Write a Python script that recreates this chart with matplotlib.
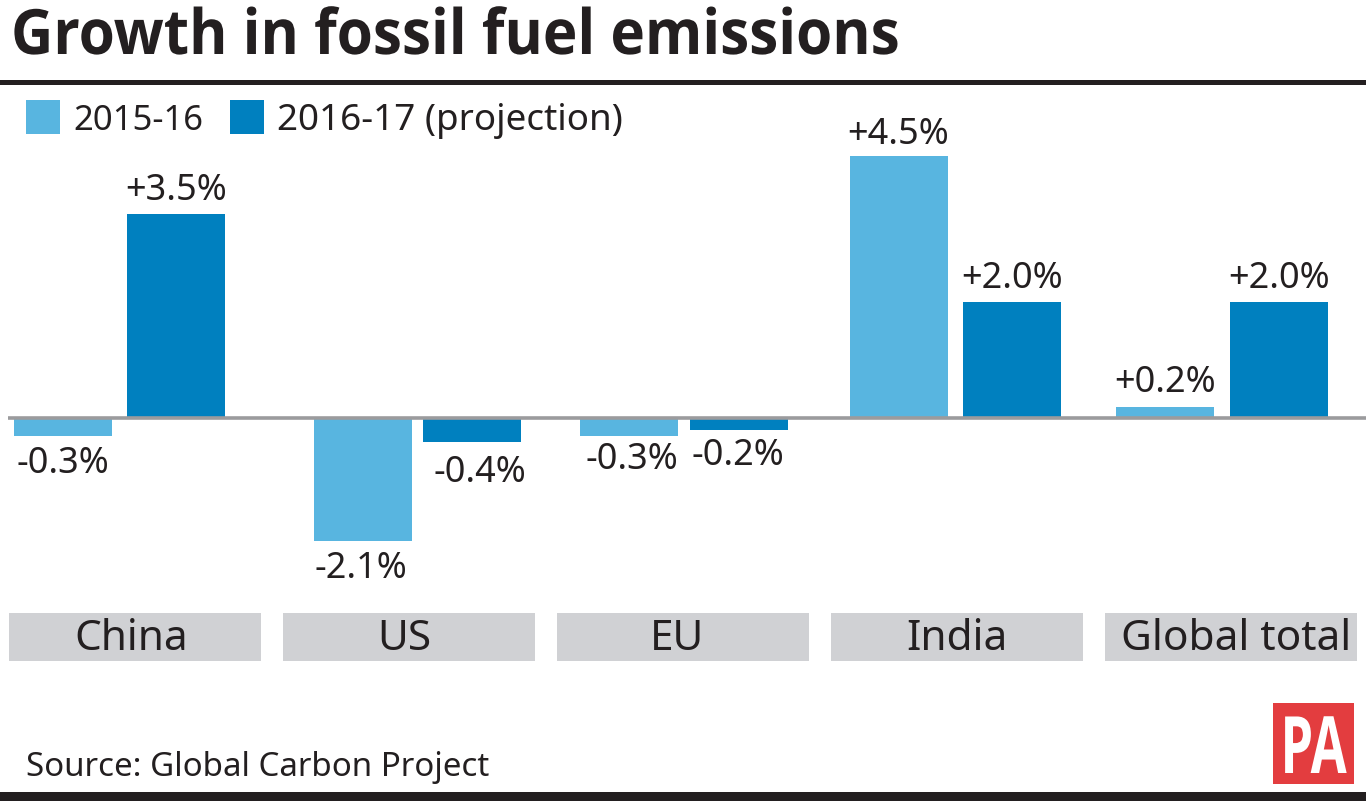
#!/usr/bin/env python3
"""Growth in fossil fuel emissions, PA style bar chart."""

import matplotlib.pyplot as plt
from matplotlib.patches import Rectangle
from matplotlib.patheffects import AbstractPathEffect
from matplotlib.transforms import Affine2D

FONT = "Noto Sans"
BOLD_FONT = "Open Sans"
TEXT = "#231f20"
LIGHT = "#58b5e0"
DARK = "#0080bf"
BAND = "#d0d1d4"
WIDTH, HEIGHT = 1366, 801
PX_PER_UNIT = 58.4
ZERO_Y = 418.5

regions = ["China", "US", "EU", "India", "Global total"]
growth_2015_16 = [-0.3, -2.1, -0.3, 4.5, 0.2]
growth_2016_17 = [3.5, -0.4, -0.2, 2.0, 2.0]
series_names = ["2015-16", "2016-17 (projection)"]

# layout, in pixels of the finished picture
left_bar_x = [14, 314, 580, 850, 1116]
right_bar_x = [127, 423, 690, 963, 1230]
left_label_x = [63, 361, 632, 898, 1165]
right_label_x = [176, 480, 738, 1012, 1279]
left_label_y = [464.5, 569.5, 460.5, 134.5, 383.5]
right_label_y = [191.5, 473.5, 456.5, 278.5, 278.5]
band_x = [9, 283, 557, 831, 1105]
band_label_x = [131, 404, 677, 957, 1236]
legend_sizes = [25, 26.5]
BAR_W = 98
BAND_W = 252
TITLE_X = 11
LOGO_CX = 1313.5


class SqueezeX(AbstractPathEffect):
    """Narrow a text around a pixel column, there is no condensed bold installed."""

    def __init__(self, factor, centre):
        super().__init__()
        self.squeeze = Affine2D().translate(-centre, 0).scale(factor, 1).translate(centre, 0)

    def draw_path(self, renderer, gc, tpath, affine, rgbFace=None):
        renderer.draw_path(gc, tpath, affine + self.squeeze, rgbFace)


plt.rcParams["font.family"] = [FONT, "DejaVu Sans"]

fig = plt.figure(figsize=(WIDTH / 100, HEIGHT / 100), dpi=100)
ax = fig.add_axes([0, 0, 1, 1])
ax.set_xlim(0, WIDTH)
ax.set_ylim((ZERO_Y - HEIGHT) / PX_PER_UNIT, ZERO_Y / PX_PER_UNIT)
ax.axis("off")


def to_y(px):
    return (ZERO_Y - px) / PX_PER_UNIT


ax.bar(left_bar_x, growth_2015_16, width=BAR_W, align="edge", color=LIGHT)
ax.bar(right_bar_x, growth_2016_17, width=BAR_W, align="edge", color=DARK)
ax.plot([8, WIDTH], [0, 0], color="#9b9b9d", linewidth=2.6, solid_capstyle="butt")

for xs, ys, values in [(left_label_x, left_label_y, growth_2015_16),
                       (right_label_x, right_label_y, growth_2016_17)]:
    for x, y, v in zip(xs, ys, values):
        ax.text(x, to_y(y), f"{v:+.1f}%", ha="center", va="center",
                fontsize=26, color=TEXT)

# region bands under the bars
for x, label_x, name in zip(band_x, band_label_x, regions):
    ax.add_patch(Rectangle((x, to_y(661)), BAND_W, 48 / PX_PER_UNIT, color=BAND, lw=0))
    ax.text(label_x, to_y(639.5), name, ha="center", va="center",
            fontsize=30.5, color=TEXT)

# title and rules
ax.text(TITLE_X, to_y(54), "Growth in fossil fuel emissions", ha="left", va="baseline",
        fontsize=45, fontweight="bold", family=BOLD_FONT, color=TEXT,
        path_effects=[SqueezeX(0.935, TITLE_X)])
ax.add_patch(Rectangle((0, to_y(85)), WIDTH, 5 / PX_PER_UNIT, color=TEXT, lw=0))
ax.add_patch(Rectangle((0, to_y(801)), WIDTH, 9 / PX_PER_UNIT, color=TEXT, lw=0))

# legend
for x, colour, name, size in zip([26, 230], [LIGHT, DARK], series_names, legend_sizes):
    ax.add_patch(Rectangle((x, to_y(134)), 34, 34 / PX_PER_UNIT, color=colour, lw=0))
    ax.text(x + 47, to_y(121), name, ha="left", va="center", fontsize=size, color=TEXT)

ax.text(26, to_y(768), "Source: Global Carbon Project", ha="left", va="center",
        fontsize=23.8, color=TEXT)

# PA logo
ax.add_patch(Rectangle((1273, to_y(784)), 81, 81 / PX_PER_UNIT, color="#e33d3f", lw=0))
ax.text(LOGO_CX, to_y(773), "PA", ha="center", va="baseline", fontsize=57,
        fontweight="bold", family=BOLD_FONT, color="white",
        path_effects=[SqueezeX(0.66, LOGO_CX)])

fig.savefig("out.png", dpi=100)
